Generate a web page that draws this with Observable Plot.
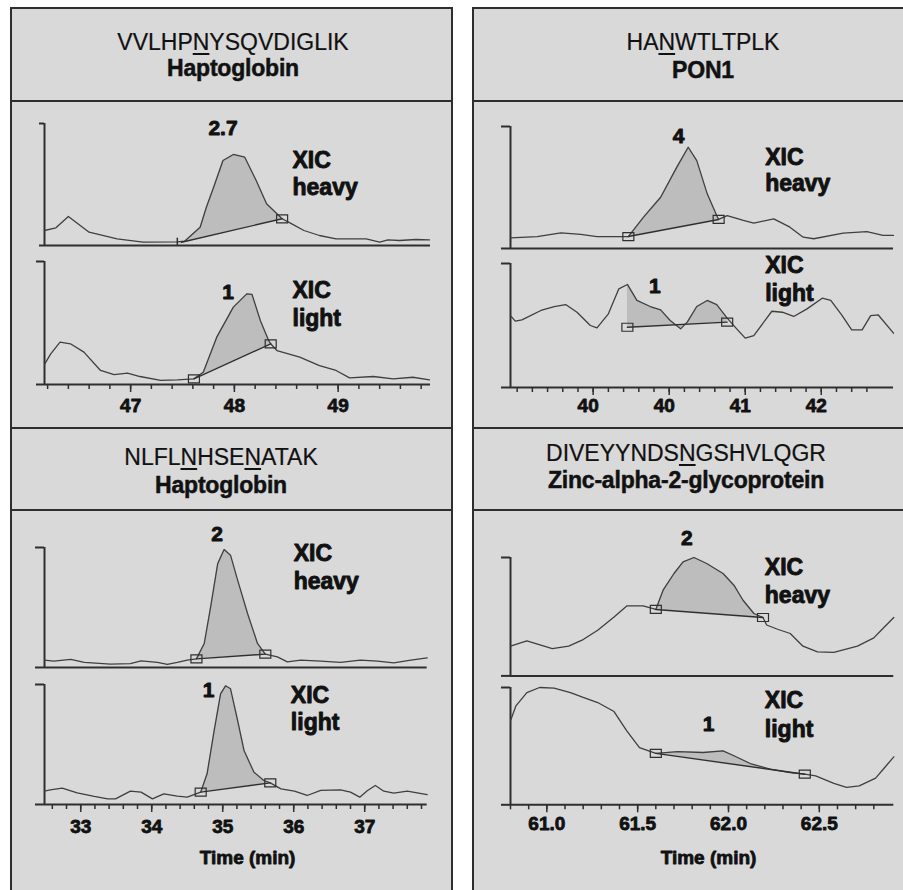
<!DOCTYPE html>
<html><head><meta charset="utf-8">
<script src="https://cdn.jsdelivr.net/npm/d3@7"></script>
<script src="https://cdn.jsdelivr.net/npm/@observablehq/plot@0.6"></script>
<style>
body{margin:0;background:#fff;}
#fig{position:relative;width:903px;height:890px;overflow:hidden;background:#fff;font-family:"Liberation Sans",Arial,sans-serif;color:#111;}
.panel{position:absolute;box-sizing:border-box;background:#d9d9d9;border:2px solid #2e2e2e;}
.sep{position:absolute;height:0;border-top:2px solid #2e2e2e;}
.tl{position:absolute;width:440px;text-align:center;font-size:23px;line-height:30px;height:30px;white-space:nowrap;-webkit-text-stroke:0.2px #111;}
.tl.b{font-weight:bold;-webkit-text-stroke:0.5px #111;letter-spacing:-0.2px;}
.tl u{text-decoration-thickness:2px;text-underline-offset:3px;}
</style></head>
<body><div id="fig"></div>
<script>
// ---------- titles ----------
const peptides = ["VVLHPNYSQVDIGLIK", "HANWTLTPLK", "NLFLNHSENATAK", "DIVEYYNDSNGSHVLQGR"];
const glycoSites = [[5], [2], [4, 8], [9]];
const proteins = ["Haptoglobin", "PON1", "Haptoglobin", "Zinc-alpha-2-glycoprotein"];
const ratioHeavy = ["2.7", "4", "2", "2"];
const ratioLight = ["1", "1", "1", "1"];
const xicHeavy = ["XIC", "heavy"];
const xicLight = ["XIC", "light"];
const xLabel = "Time (min)";

// ---------- tick values ----------
const tlMajor = [47, 48, 49];
const tlMinor = [46.2,46.4,46.6,46.8,47.0,47.2,47.4,47.6,47.8,48.0,48.2,48.4,48.6,48.8,49.0,49.2,49.4,49.6,49.8];
const tlLabels = ["47", "48", "49"];
const trMajor = [39.6, 40.4, 41.2, 42.0];
const trMinor = [38.80,38.96,39.12,39.28,39.44,39.60,39.76,39.92,40.08,40.24,40.40,40.56,40.72,40.88,41.04,41.20,41.36,41.52,41.68,41.84,42.00,42.16,42.32,42.48];
const trLabels = ["40", "40", "41", "42"];
const blMajor = [33, 34, 35, 36, 37];
const blMinor = [32.6,32.8,33.0,33.2,33.4,33.6,33.8,34.0,34.2,34.4,34.6,34.8,35.0,35.2,35.4,35.6,35.8,36.0,36.2,36.4,36.6,36.8,37.0,37.2,37.4,37.6,37.8];
const blLabels = ["33", "34", "35", "36", "37"];
const brMajor = [61.0, 61.5, 62.0, 62.5];
const brMinor = [60.8,60.9,61.0,61.1,61.2,61.3,61.4,61.5,61.6,61.7,61.8,61.9,62.0,62.1,62.2,62.3,62.4,62.5,62.6,62.7,62.8];
const brLabels = ["61.0", "61.5", "62.0", "62.5"];

// ---------- traces (time in min, relative intensity 0-100) ----------
const tlHeavyT = [46.17,46.28,46.40,46.60,46.87,47.12,47.45,47.52,47.67,47.73,47.80,47.89,47.99,48.10,48.21,48.31,48.41,48.46,48.54,48.67,48.82,48.98,49.27,49.40,49.48,49.59,49.75,49.88];
const tlHeavyI = [12.3,14.5,23.8,10.9,5.5,2.7,3.0,3.5,15,31.4,47.8,69.7,74.6,72.4,53.3,34.2,26,21.9,18.3,12.3,8.2,5.5,5.5,2.7,4.6,4.1,4.9,4.6];
const tlHeavyPeak = [[47.49, 2.7], [48.46, 21.9]];
const tlLightT = [46.17,46.23,46.32,46.42,46.55,46.71,46.84,46.97,47.09,47.29,47.45,47.61,47.70,47.83,47.99,48.12,48.17,48.25,48.33,48.35,48.41,48.63,48.82,48.98,49.11,49.34,49.53,49.72,49.88];
const tlLightI = [16.3,24.9,34.4,33.1,26.3,11.4,8.1,9.2,6.5,3.3,3.8,4.6,10,38.5,62.9,73.7,73.2,52,35.8,33.1,27.6,22.2,15.4,11.4,5.4,6.5,4.6,5.9,3.8];
const tlLightPeak = [[47.61, 4.6], [48.35, 33.1]];

const trHeavyT = [38.73,39.01,39.26,39.47,39.64,39.89,39.97,40.13,40.31,40.48,40.60,40.69,40.80,40.90,40.92,41.01,41.18,41.29,41.50,41.67,41.81,41.92,42.23,42.48,42.65,42.76];
const trHeavyI = [8.7,9.8,12.8,11.5,9.8,9.8,9.8,25.7,42,66.7,83,72,44.8,27,23.8,27,23,20.8,24.3,17.5,9.3,8,12.6,13.9,10.7,10.7];
const trHeavyPeak = [[39.97, 9.8], [40.92, 23.8]];
const trLightT = [38.73,38.78,38.85,39.05,39.19,39.31,39.43,39.57,39.64,39.76,39.87,39.96,40.06,40.20,40.31,40.41,40.52,40.59,40.69,40.80,40.90,41.01,41.11,41.20,41.29,41.48,41.59,41.71,41.85,42.01,42.10,42.22,42.32,42.43,42.52,42.60,42.76];
const trLightI = [58,53.5,54.6,62.1,65.3,66.9,60.7,50,48.1,59.4,79.6,83.1,70.2,65.3,62.6,54,47.3,52.7,65.3,70.2,66.9,56,47.3,39.8,41.9,61.5,60.7,57.3,63.4,72,70.2,58,46.5,46.5,58,58.5,43.8];
const trLightPeak = [[39.96, 48.6], [41.01, 52.7]];

const blHeavyT = [32.49,32.62,32.86,33.05,33.42,33.70,33.85,34.08,34.22,34.36,34.50,34.63,34.74,34.83,34.93,35.02,35.11,35.21,35.35,35.49,35.60,35.77,35.91,36.10,36.38,36.66,36.94,37.18,37.41,37.65,37.88];
const blHeavyI = [6.1,5.3,6.7,4.2,2.8,3.3,5.5,4.2,2.5,4.2,6.1,7.2,20,50.5,86.7,98.3,93.6,72.8,45,20,11.1,8.9,4.7,6.1,5.3,4.2,6.1,5.3,3.9,6.1,8];
const blHeavyPeak = [[34.63, 7.2], [35.60, 11.1]];
const blLightT = [32.49,32.57,32.74,32.95,33.19,33.38,33.49,33.70,33.85,34.01,34.17,34.36,34.50,34.69,34.78,34.88,34.97,35.04,35.11,35.21,35.30,35.44,35.58,35.67,35.82,36.01,36.19,36.38,36.66,36.80,36.93,37.04,37.15,37.27,37.41,37.60,37.88];
const blLightI = [11.1,12.2,13.6,9.7,6.7,4.7,4.7,11.1,10.3,4.7,8.9,6.9,6.1,10.3,25.6,61.7,92.2,98.9,96.4,70,45,26.9,20,18,13,11.1,7.5,11.7,12.2,10.3,6.1,11.7,15.8,11.1,9.4,11.1,8.3];
const blLightPeak = [[34.69, 10.3], [35.67, 18]];

const brHeavyT = [60.80,60.89,61.03,61.12,61.20,61.28,61.37,61.44,61.53,61.60,61.64,61.70,61.75,61.81,61.88,61.97,62.03,62.08,62.14,62.19,62.21,62.27,62.34,62.41,62.49,62.58,62.71,62.80,62.85,62.91];
const brHeavyI = [25.1,29.6,23.1,25.1,30.7,38.6,49.8,59.1,59.1,56.1,72.4,86.5,96.3,100,94.9,86.5,76.6,63.9,52.7,49.3,43,39.4,35.8,25.1,20.3,19.8,25.1,32.1,40,49.3];
const brHeavyPeak = [[61.60, 56.1], [62.19, 49.3]];
const brLightT = [60.80,60.83,60.89,60.96,61.04,61.13,61.20,61.28,61.37,61.44,61.51,61.60,61.72,61.86,61.97,62.03,62.12,62.23,62.34,62.42,62.48,62.58,62.65,62.72,62.81,62.86,62.91];
const brLightI = [71.6,84.4,95.7,100,99.5,95.7,91.5,87.2,79.5,63.1,48.8,43.8,45.4,44.6,46,41.8,35.2,30.4,27.5,26.1,24.7,18.2,14.8,16.2,22.8,31.8,40.9];
const brLightPeak = [[61.60, 43.8], [62.42, 26.1]];

// ---------- styling ----------
const FONT = '"Liberation Sans", Arial, sans-serif';
const AX = "#2f2f2f", LINE = "#3f3f3f", SHADE = "#bdbdbd";
const fig = document.getElementById("fig");

// panels
[[10,7,443,422,100],[472,7,460,422,100],[10,427,443,480,509],[472,427,460,480,509]].forEach(([l,t,w,h,s])=>{
  const p = document.createElement("div"); p.className="panel";
  Object.assign(p.style,{left:l+"px",top:t+"px",width:w+"px",height:h+"px"}); fig.appendChild(p);
  const q = document.createElement("div"); q.className="sep";
  Object.assign(q.style,{left:l+"px",top:s+"px",width:w+"px"}); fig.appendChild(q);
});
// titles
const titlePos = [[233,41.5,67.5],[703,41.7,70],[221,456.7,485],[686,453.3,480.3]];
peptides.forEach((pep,k)=>{
  const [cx,y1,y2] = titlePos[k];
  const a = document.createElement("div"); a.className="tl";
  a.innerHTML = [...pep].map((ch,i)=>glycoSites[k].includes(i)?`<u>${ch}</u>`:ch).join("");
  Object.assign(a.style,{left:(cx-220)+"px",top:(y1-15)+"px"}); fig.appendChild(a);
  const b = document.createElement("div"); b.className="tl b"; b.textContent = proteins[k];
  Object.assign(b.style,{left:(cx-220)+"px",top:(y2-15)+"px"}); fig.appendChild(b);
});

const interp = (T, I, t) => {
  const i = d3.bisectRight(T, t) - 1;
  if (i < 0) return I[0];
  if (i >= T.length - 1) return I[T.length - 1];
  const f = (t - T[i]) / (T[i+1] - T[i]);
  return I[i] + f * (I[i+1] - I[i]);
};
function peakArea(T, I, pk) {
  const [[t0,b0],[t1,b1]] = pk;
  const base = t => b0 + (b1-b0)*(t-t0)/(t1-t0);
  const pts = [{t:t0, lo:b0, hi:interp(T,I,t0)}];
  T.forEach((t,i)=>{ if (t>t0 && t<t1) pts.push({t, lo:base(t), hi:I[i]}); });
  pts.push({t:t1, lo:b1, hi:interp(T,I,t1)});
  return pts;
}
const boxSymbol = { draw(ctx) { ctx.rect(-5.5, -4, 11, 8); } };

function drawTrace(c) {
  const mL = 16, mR = 12, mT = 30, mB = c.axis ? c.axis.mB : 12;
  const fw = c.right - c.left, fh = c.base - c.top;
  const curve = c.T.map((t,i)=>({t, v:c.I[i]}));
  const area = peakArea(c.T, c.I, c.peak);
  const pk = c.peak.map(([t,v])=>({t,v}));
  const boxes = c.boxStart === false ? pk.slice(1) : pk;
  const txt = (s, x, y, size, anchor) => Plot.text([s], {x: () => x, y: () => y, text: d => d, fontSize: size, fontWeight: "bold", textAnchor: anchor, fill: "#111", stroke: "#111", strokeWidth: 0.9, fontFamily: FONT});
  const marks = [
    Plot.areaY(area, {x:"t", y1:"lo", y2:"hi", fill: SHADE}),
    Plot.ruleY([0], {stroke: AX, strokeWidth: 2}),
    Plot.ruleX([c.dom[0]], {y1: 0, y2: 100, stroke: AX, strokeWidth: 2}),
    Plot.axisY({ticks:[0,100], tickSize: c.ytick, tickFormat: () => "", stroke: AX, strokeWidth: 2, label: null}),
    Plot.line(curve, {x:"t", y:"v", stroke: LINE, strokeWidth: 1.3}),
    Plot.line(pk, {x:"t", y:"v", stroke: "#2f2f2f", strokeWidth: 1.4}),
    Plot.dot(boxes, {x:"t", y:"v", symbol: boxSymbol, stroke: "#2f2f2f", strokeWidth: 1.2, fill: "none"}),
    txt(c.ratio, c.ratioAt[0], c.ratioAt[1], 21, "middle"),
    txt(c.xic[0], c.xicAt[0], c.xicAt[1], 23, "start"),
    txt(c.xic[1], c.xicAt[0], c.xicAt[2], 23, "start")
  ];
  if (c.startTick) marks.push(Plot.ruleX([c.startTick], {y1: 0, y2: 6, stroke: AX, strokeWidth: 1.5}));
  if (c.axis) {
    const a = c.axis;
    marks.push(
      Plot.axisX({ticks: a.minor, tickSize: 5, tickFormat: () => "", stroke: AX, strokeWidth: 1.5, label: null}),
      Plot.axisX({ticks: a.major, tickSize: 8, tickFormat: () => "", stroke: AX, strokeWidth: 1.5, label: null}),
      Plot.text(a.major, {x: d => d, frameAnchor: "bottom", lineAnchor: "middle", dy: a.pad, dx: a.dx || 0, text: (d, i) => a.labels[i], fontSize: 19, fontWeight: "bold", fill: "#111", stroke: "#111", strokeWidth: 0.8, fontFamily: FONT})
    );
    if (a.title) marks.push(Plot.text([xLabel], {x: () => a.title, frameAnchor: "bottom", lineAnchor: "middle", dy: 53, text: d => d, fontSize: 19, fontWeight: "bold", fill: "#111", stroke: "#111", strokeWidth: 0.8, fontFamily: FONT}));
  }
  const svg = Plot.plot({
    width: mL + fw + mR, height: mT + fh + mB,
    marginLeft: mL, marginRight: mR, marginTop: mT, marginBottom: mB,
    x: {domain: c.dom, label: null, ...(c.axis ? {} : {axis: null})},
    y: {domain: [0, 100], label: null},
    style: {background: "transparent", overflow: "visible", fontFamily: FONT, fontSize: "18px", fontWeight: "bold", color: "#111"},
    marks
  });
  Object.assign(svg.style, {position: "absolute", left: (c.left - mL) + "px", top: (c.top - mT) + "px", maxWidth: "none"});
  fig.appendChild(svg);
}

// top-left
drawTrace({T: tlHeavyT, I: tlHeavyI, peak: tlHeavyPeak, dom: [46.17, 49.89], left: 44, right: 430, top: 123, base: 245, ytick: 5,
  boxStart: false, startTick: 47.45, ratio: ratioHeavy[0], ratioAt: [47.89, 95.9], xic: xicHeavy, xicAt: [48.56, 69.7, 47.5]});
drawTrace({T: tlLightT, I: tlLightI, peak: tlLightPeak, dom: [46.17, 49.89], left: 44, right: 430, top: 261, base: 384, ytick: 8,
  ratio: ratioLight[0], ratioAt: [47.94, 74.8], xic: xicLight, xicAt: [48.56, 76.4, 53.7],
  axis: {major: tlMajor, minor: tlMinor, labels: tlLabels, pad: 21, mB: 40}});
// top-right
drawTrace({T: trHeavyT, I: trHeavyI, peak: trHeavyPeak, dom: [38.73, 42.76], left: 510, right: 893, top: 126, base: 248, ytick: 9,
  ratio: ratioHeavy[1], ratioAt: [40.50, 91.8], xic: xicHeavy, xicAt: [41.41, 74.8, 53]});
drawTrace({T: trLightT, I: trLightI, peak: trLightPeak, dom: [38.73, 42.76], left: 510, right: 893, top: 263, base: 387, ytick: 9,
  ratio: ratioLight[1], ratioAt: [40.25, 81.5], xic: xicLight, xicAt: [41.41, 98.4, 76],
  axis: {major: trMajor, minor: trMinor, labels: trLabels, pad: 18, dx: -5, mB: 40}});
// bottom-left
drawTrace({T: blHeavyT, I: blHeavyI, peak: blHeavyPeak, dom: [32.49, 37.88], left: 44, right: 426.7, top: 547.3, base: 667.3, ytick: 9,
  ratio: ratioHeavy[2], ratioAt: [34.92, 111], xic: xicHeavy, xicAt: [36.0, 95, 71.3]});
drawTrace({T: blLightT, I: blLightI, peak: blLightPeak, dom: [32.49, 37.88], left: 44, right: 426.7, top: 684, base: 804, ytick: 9,
  ratio: ratioLight[2], ratioAt: [34.80, 95], xic: xicLight, xicAt: [35.96, 90.8, 68.6],
  axis: {major: blMajor, minor: blMinor, labels: blLabels, pad: 22, mB: 72, title: 35.35}});
// bottom-right
drawTrace({T: brHeavyT, I: brHeavyI, peak: brHeavyPeak, dom: [60.80, 62.91], left: 510, right: 893.3, top: 557.3, base: 675.7, ytick: 9,
  ratio: ratioHeavy[3], ratioAt: [61.77, 116], xic: xicHeavy, xicAt: [62.20, 91.6, 67.6]});
drawTrace({T: brLightT, I: brLightI, peak: brLightPeak, dom: [60.80, 62.91], left: 510, right: 893.3, top: 686.7, base: 804, ytick: 9,
  ratio: ratioLight[3], ratioAt: [61.89, 68.8], xic: xicLight, xicAt: [62.20, 88.7, 64.5],
  axis: {major: brMajor, minor: brMinor, labels: brLabels, pad: 19.5, mB: 72, title: 61.89}});
</script></body></html>
